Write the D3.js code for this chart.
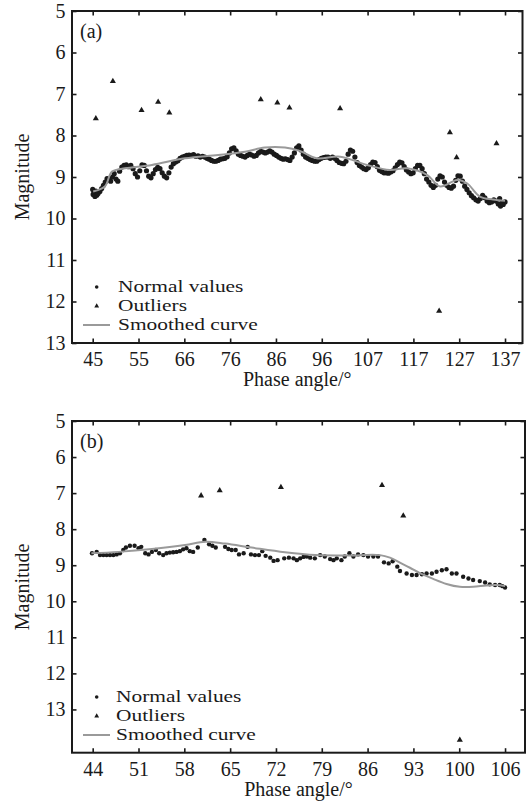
<!DOCTYPE html>
<html>
<head>
<meta charset="utf-8">
<script src="https://cdn.jsdelivr.net/npm/d3@7"></script>
<style>
  body { margin: 0; background: #fff; }
  svg text { font-family: "Liberation Serif", "Times New Roman", serif; fill: #1a1a1a; }
</style>
</head>
<body>
<svg id="chart" width="530" height="809"></svg>
<script>

// ---- data, panel (a) ----
const xLabelsA = [45, 55, 66, 76, 86, 96, 107, 117, 127, 137];
const yLabelsA = [5, 6, 7, 8, 9, 10, 11, 12, 13];

const normalA = [
  [45.0,9.30],[45.1,9.42],[45.3,9.38],[45.5,9.47],[45.7,9.34],[45.9,9.44],[46.2,9.40],[46.6,9.35],
  [47.0,9.28],[47.4,9.20],[47.8,9.12],[48.2,9.04],[48.6,9.06],[49.0,9.10],[49.4,9.00],[49.8,8.92],
  [50.2,9.05],[50.6,9.10],[51.0,8.86],[51.5,8.76],[52.0,8.72],[52.5,8.71],[53.0,8.75],[53.5,8.72],
  [54.0,8.80],[54.5,8.92],[55.0,9.00],[55.5,8.85],[56.0,8.71],[56.5,8.72],[57.0,8.85],[57.5,8.98],
  [58.0,9.02],[58.5,8.92],[59.0,8.82],[59.5,8.77],[60.0,8.80],[60.5,8.90],[61.0,8.98],[61.5,9.02],
  [62.0,8.90],[62.5,8.76],[63.0,8.68],[63.5,8.64],[64.0,8.61],[64.5,8.55],[65.0,8.52],[65.5,8.50],
  [66.0,8.48],[66.5,8.47],[67.0,8.48],[67.5,8.46],[68.0,8.50],[68.5,8.49],[69.0,8.52],[69.5,8.50],
  [70.0,8.52],[70.5,8.55],[71.0,8.57],[71.5,8.60],[72.0,8.62],[72.5,8.62],[73.0,8.60],[73.5,8.57],
  [74.0,8.56],[74.5,8.55],[75.0,8.51],[75.5,8.42],[76.0,8.32],[76.5,8.30],[77.0,8.37],[77.5,8.45],
  [78.0,8.48],[78.5,8.50],[79.0,8.52],[79.5,8.48],[80.0,8.45],[80.5,8.47],[81.0,8.50],[81.5,8.48],
  [82.0,8.42],[82.5,8.38],[83.0,8.40],[83.5,8.42],[84.0,8.40],[84.5,8.37],[85.0,8.40],[85.5,8.45],
  [86.0,8.48],[86.5,8.52],[87.0,8.55],[87.5,8.57],[88.0,8.56],[88.5,8.58],[89.0,8.60],[89.5,8.52],
  [90.0,8.42],[90.5,8.30],[91.0,8.25],[91.5,8.35],[92.0,8.45],[92.5,8.52],[93.0,8.55],[93.5,8.58],
  [94.0,8.60],[94.5,8.62],[95.0,8.62],[95.5,8.58],[96.0,8.55],[96.5,8.53],[97.0,8.52],[97.5,8.52],
  [98.0,8.55],[98.5,8.52],[99.0,8.55],[99.5,8.60],[100.0,8.65],[100.5,8.67],[101.0,8.68],[101.5,8.62],
  [102.0,8.45],[102.5,8.35],[103.0,8.38],[103.5,8.52],[104.0,8.65],[104.5,8.72],[105.0,8.76],[105.5,8.80],
  [106.0,8.82],[106.5,8.78],[107.0,8.70],[107.5,8.64],[108.0,8.65],[108.5,8.75],[109.0,8.84],[109.5,8.87],
  [110.0,8.90],[110.5,8.90],[111.0,8.91],[111.5,8.88],[112.0,8.85],[112.5,8.78],[113.0,8.70],[113.5,8.64],
  [114.0,8.66],[114.5,8.75],[115.0,8.83],[115.5,8.88],[116.0,8.92],[116.5,8.90],[117.0,8.80],[117.5,8.72],
  [118.0,8.72],[118.5,8.80],[119.0,8.92],[119.5,9.05],[120.0,9.12],[120.5,9.20],[121.0,9.25],[121.5,9.20],
  [122.0,9.05],[122.5,8.97],[123.0,9.00],[123.5,9.12],[124.0,9.20],[124.5,9.25],[125.0,9.27],[125.5,9.22],
  [126.0,9.08],[126.5,8.97],[127.0,8.98],[127.5,9.10],[128.0,9.22],[128.5,9.30],[129.0,9.38],[129.5,9.45],
  [130.0,9.50],[130.5,9.55],[131.0,9.58],[131.5,9.52],[132.0,9.44],[132.5,9.50],[133.0,9.58],[133.5,9.62],
  [134.0,9.60],[134.5,9.55],[135.0,9.58],[135.5,9.65],[135.8,9.52],[136.0,9.70],[136.3,9.62],[136.6,9.66],
  [137.0,9.60]
];

const outliersA = [
  [45.7,7.59],[49.5,6.69],[55.9,7.39],[59.6,7.19],[62.1,7.45],[82.5,7.13],[86.2,7.21],
  [88.9,7.33],[100.2,7.35],[122.3,12.23],[124.7,7.93],[126.2,8.53],[135.1,8.19]
];

const smoothA = [
  [45.1,9.35],[47.7,9.23],[49.3,8.87],[52.2,8.79],[58.2,8.71],[65.6,8.55],[73.0,8.47],
  [79.0,8.39],[83.4,8.29],[87.9,8.29],[91.2,8.37],[95.0,8.55],[100.2,8.51],[106.2,8.71],
  [111.3,8.83],[115.1,8.79],[119.6,8.95],[122.5,9.23],[126.3,9.07],[128.5,9.15],[131.4,9.47],
  [134.3,9.54],[137.0,9.57]
];

// ---- data, panel (b) ----
const xLabelsB = [44, 51, 58, 65, 72, 79, 86, 93, 100, 106];
const yLabelsB = [5, 6, 7, 8, 9, 10, 11, 12, 13];

const normalB = [
  [43.9,8.67],[44.6,8.63],[45.1,8.72],[45.6,8.72],[46.1,8.72],[46.6,8.72],[47.1,8.72],[47.6,8.70],
  [48.1,8.67],[48.6,8.58],[49.0,8.51],[49.6,8.46],[50.3,8.46],[50.9,8.53],[51.3,8.49],[51.9,8.67],
  [52.4,8.70],[52.9,8.63],[53.5,8.58],[54.0,8.67],[54.6,8.72],[55.1,8.67],[55.6,8.65],[56.1,8.64],
  [56.6,8.63],[57.1,8.61],[57.6,8.56],[58.1,8.53],[58.6,8.61],[59.1,8.63],[59.8,8.51],[60.8,8.30],
  [61.5,8.42],[62.0,8.46],[62.5,8.51],[63.9,8.49],[64.4,8.55],[64.9,8.58],[65.5,8.58],[66.0,8.70],
  [66.7,8.67],[67.3,8.49],[67.8,8.70],[68.4,8.72],[69.0,8.72],[69.5,8.61],[70.0,8.74],[70.7,8.79],
  [71.2,8.88],[71.8,8.86],[72.8,8.81],[73.5,8.79],[74.2,8.81],[74.7,8.86],[75.2,8.81],[75.7,8.77],
  [76.2,8.76],[76.7,8.79],[77.4,8.81],[78.2,8.72],[78.9,8.76],[79.7,8.83],[80.2,8.86],[80.7,8.81],
  [81.4,8.86],[81.9,8.76],[82.6,8.67],[83.2,8.76],[83.9,8.70],[84.7,8.72],[85.4,8.76],[86.2,8.76],
  [86.9,8.76],[87.8,8.92],[88.5,8.95],[89.1,8.89],[89.8,9.04],[90.2,9.16],[91.2,9.23],[92.0,9.27],
  [92.7,9.27],[93.5,9.25],[94.2,9.23],[95.0,9.23],[95.7,9.18],[96.5,9.14],[97.2,9.11],[98.0,9.23],
  [98.7,9.23],[99.7,9.32],[100.5,9.37],[101.2,9.41],[102.2,9.44],[103.0,9.48],[103.7,9.53],[104.5,9.55],
  [105.2,9.55],[105.6,9.58],[106.0,9.62]
];

const outliersB = [
  [60.3,7.07],[63.1,6.93],[72.3,6.84],[87.5,6.78],[90.7,7.63],[99.2,13.85]
];

const smoothB = [
  [43.8,8.67],[47.9,8.63],[52.9,8.55],[57.9,8.44],[60.9,8.35],[63.9,8.40],[67.9,8.51],
  [72.9,8.64],[77.5,8.72],[82.2,8.73],[87.2,8.72],[88.7,8.79],[90.2,8.93],[91.7,9.07],
  [93.2,9.22],[95.2,9.38],[97.2,9.52],[99.2,9.60],[101.2,9.60],[103.2,9.56],[104.7,9.55],
  [106.0,9.58]
];

const legendNames = ['Normal values', 'Outliers', 'Smoothed curve'];

// ---- drawing ----
const svg = d3.select('#chart');
const ink = '#1a1a1a';
const grey = '#9a9a9a';

function drawPanel(p) {
  const g = svg.append('g').attr('class', 'panel');

  const x = d3.scaleLinear().domain(p.xDomain).range([p.left, p.right]);
  const y = d3.scaleLinear().domain(p.yDomain).range([p.top, p.bottom]);

  // evenly spaced ticks between first and last label
  const n = p.xLabels.length;
  const x0 = p.xLabels[0], x1 = p.xLabels[n - 1];
  const xTickVals = p.xLabels.map((d, i) => x0 + (x1 - x0) * i / (n - 1));

  // bottom axis
  g.append('g')
    .attr('transform', `translate(0,${p.bottom})`)
    .call(d3.axisBottom(x).tickValues(xTickVals).tickSizeInner(-4.5).tickSizeOuter(0)
      .tickPadding(9).tickFormat((d, i) => p.xLabels[i]))
    .call(a => a.select('.domain').remove());

  // top axis, ticks only
  g.append('g')
    .attr('transform', `translate(0,${p.top})`)
    .call(d3.axisTop(x).tickValues(xTickVals).tickSizeInner(-4.5).tickSizeOuter(0).tickFormat(''))
    .call(a => a.select('.domain').remove());

  // left axis
  g.append('g')
    .attr('transform', `translate(${p.left},0)`)
    .call(d3.axisLeft(y).tickValues(p.yLabels).tickSizeInner(-4.5).tickSizeOuter(0)
      .tickPadding(6.5).tickFormat(d3.format('d')))
    .call(a => a.select('.domain').remove());

  // right axis, ticks only
  g.append('g')
    .attr('transform', `translate(${p.right},0)`)
    .call(d3.axisRight(y).tickValues(p.yLabels).tickSizeInner(-4.5).tickSizeOuter(0).tickFormat(''))
    .call(a => a.select('.domain').remove());

  g.selectAll('.tick line').attr('stroke', ink).attr('stroke-width', 1.6);
  g.selectAll('.tick text').attr('font-size', 20).style('font-family', '"Liberation Serif", serif').attr('fill', ink);

  // frame
  g.append('rect')
    .attr('x', p.left).attr('y', p.top)
    .attr('width', p.right - p.left).attr('height', p.bottom - p.top)
    .attr('fill', 'none').attr('stroke', ink).attr('stroke-width', 2);

  // normal points
  g.append('g').selectAll('circle')
    .data(p.normal)
    .join('circle')
    .attr('cx', d => x(d[0]))
    .attr('cy', d => y(d[1]))
    .attr('r', p.pr)
    .attr('fill', ink);

  // outliers
  const tri = d3.symbol().type(d3.symbolTriangle).size(16);
  g.append('g').selectAll('path')
    .data(p.outliers)
    .join('path')
    .attr('d', tri)
    .attr('transform', d => `translate(${x(d[0])},${y(d[1])})`)
    .attr('fill', ink);

  // smoothed curve
  const line = d3.line()
    .x(d => x(d[0]))
    .y(d => y(d[1]))
    .curve(d3.curveCatmullRom.alpha(0.5));

  g.append('path')
    .datum(p.smooth)
    .attr('d', line)
    .attr('fill', 'none')
    .attr('stroke', grey)
    .attr('stroke-width', 2);

  // panel tag
  g.append('text')
    .attr('x', p.left + 8).attr('y', p.tagY)
    .attr('font-size', 20)
    .text(p.tag);

  // axis titles
  g.append('text')
    .attr('transform', `translate(29,${(p.top + p.bottom) / 2}) rotate(-90)`)
    .attr('text-anchor', 'middle')
    .attr('font-size', 20)
    .text('Magnitude');

  g.append('text')
    .attr('x', (p.left + p.right) / 2).attr('y', p.bottom + 43)
    .attr('text-anchor', 'middle')
    .attr('font-size', 20)
    .text('Phase angle/°');

  // legend (glyphs in the source are set wide, so stretch horizontally)
  const lg = g.append('g').attr('transform', `translate(0,${p.legendY})`);
  const rowH = 19;
  lg.append('circle').attr('cx', 96.7).attr('cy', 0).attr('r', 1.8).attr('fill', ink);
  lg.append('path').attr('d', d3.symbol().type(d3.symbolTriangle).size(10))
    .attr('transform', `translate(96.7,${rowH})`).attr('fill', ink);
  lg.append('line').attr('x1', 83).attr('x2', 110).attr('y1', rowH * 2).attr('y2', rowH * 2)
    .attr('stroke', grey).attr('stroke-width', 2);
  lg.selectAll('text')
    .data(legendNames)
    .join('text')
    .attr('transform', (d, i) => `translate(${p.legendX},${i * rowH + 5}) scale(1.26,1)`)
    .attr('font-size', 17)
    .text(d => d);
}

drawPanel({
  tag: '(a)', tagY: 37.5,
  top: 11, bottom: 343, left: 72, right: 522.5,
  xDomain: [40.38, 140.9], yDomain: [5, 13],
  xLabels: xLabelsA, yLabels: yLabelsA,
  normal: normalA, outliers: outliersA, smooth: smoothA,
  pr: 2.6, legendY: 287, legendX: 118
});

drawPanel({
  tag: '(b)', tagY: 448,
  top: 421, bottom: 752.7, left: 72, right: 525,
  xDomain: [40.89, 109.0], yDomain: [5, 14.2],
  xLabels: xLabelsB, yLabels: yLabelsB,
  normal: normalB, outliers: outliersB, smooth: smoothB,
  pr: 2.2, legendY: 697, legendX: 116
});

</script>
</body>
</html>
